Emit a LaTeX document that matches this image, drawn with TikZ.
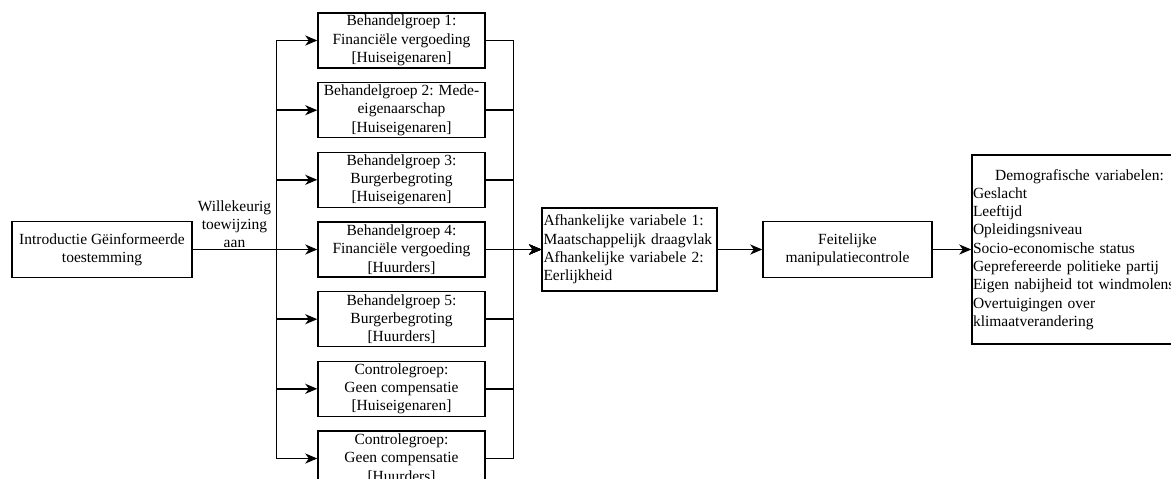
\documentclass[tikz,border=0pt]{standalone}
\usepackage{fontspec}
\setmainfont{Liberation Serif}
\usetikzlibrary{arrows.meta,positioning,calc}

\begin{document}
\begin{tikzpicture}[x=1pt, y=-1pt,
				      every node/.style={font=\fontsize{15.5}{18.3}\selectfont, inner sep=2pt},
				      stageBox/.style={
						      draw, shape=rectangle, line width=1.4pt,
						      minimum width=167pt, minimum height=55pt,
						      inner ysep=0pt, align=center
					      },
				      groupBox/.style={stageBox, minimum width=167pt, minimum height=55pt},
				      listBox/.style={
						      draw, shape=rectangle, line width=1.4pt,
						      align=left, inner xsep=0.5pt
					      },
				      flow/.style={draw, line width=1.5pt, -{Stealth[length=12pt,width=10pt,inset=3.5pt]}}
			      ]
			      \clip (0,0) rectangle (1171,479);

			      % Start
			      \node[stageBox, minimum width=180pt, minimum height=56pt] (intro) at (102,249.5) {Introductie Gëinformeerde\\toestemming};
			      \node[anchor=south, align=center, inner sep=1pt] (assign) at (234.5,249) {Willekeurig\\toewijzing\\aan};

			      % Groups
			      \node[groupBox] (g1) at (401.5,40.5) {Behandelgroep 1:\\Financiële vergoeding\\{[Huiseigenaren]}};
			      \node[groupBox] (g2) at (401.5,110.2) {Behandelgroep 2: Mede-\\eigenaarschap\\{[Huiseigenaren]}};
			      \node[groupBox] (g3) at (401.5,179.8) {Behandelgroep 3:\\Burgerbegroting\\{[Huiseigenaren]}};
			      \node[groupBox] (g4) at (401.5,249.5) {Behandelgroep 4:\\Financiële vergoeding\\{[Huurders]}};
			      \node[groupBox] (g5) at (401.5,319.2) {Behandelgroep 5:\\Burgerbegroting\\{[Huurders]}};
			      \node[groupBox] (g6) at (401.5,388.8) {Controlegroep:\\Geen compensatie\\{[Huiseigenaren]}};
			      \node[groupBox] (g7) at (401.5,458.5) {Controlegroep:\\Geen compensatie\\{[Huurders]}};

			      % Measures
			      \node[listBox, minimum width=175pt, minimum height=83pt, text width=172pt] (dep) at (629.5,249.5)
			      {Afhankelijke variabele 1:\\Maatschappelijk draagvlak\\Afhankelijke variabele 2:\\Eerlijkheid};
			      \node[stageBox, minimum width=169pt, minimum height=56pt] (check) at (847.5,249.5) {Feitelijke\\manipulatiecontrole};
			      \node[listBox, minimum width=215pt, minimum height=189pt, text width=213pt] (demo) at (1079.5,249.5)
			      {\makebox[\linewidth][c]{Demografische variabelen:}\\Geslacht\\Leeftijd\\Opleidingsniveau\\Socio-economische status\\Geprefereerde politieke partij\\Eigen nabijheid tot windmolens\\Overtuigingen over\\klimaatverandering};

			      % Split to groups
			      \draw[flow] (intro.east) -- ++(84,0) |- (g1.west);
			      \draw[flow] (intro.east) -- ++(84,0) |- (g2.west);
			      \draw[flow] (intro.east) -- ++(84,0) |- (g3.west);
			      \draw[flow] (intro.east) -- (g4.west);
			      \draw[flow] (intro.east) -- ++(84,0) |- (g5.west);
			      \draw[flow] (intro.east) -- ++(84,0) |- (g6.west);
			      \draw[flow] (intro.east) -- ++(84,0) |- (g7.west);

			      % Merge to measures
			      \draw[flow] (g1.east) -- ++(28,0) |- (dep.west);
			      \draw[flow] (g2.east) -- ++(28,0) |- (dep.west);
			      \draw[flow] (g3.east) -- ++(28,0) |- (dep.west);
			      \draw[flow] (g4.east) -- (dep.west);
			      \draw[flow] (g5.east) -- ++(28,0) |- (dep.west);
			      \draw[flow] (g6.east) -- ++(28,0) |- (dep.west);
			      \draw[flow] (g7.east) -- ++(28,0) |- (dep.west);

			      \draw[flow] (dep) -- (check);
			      \draw[flow] (check) -- (demo);
		      \end{tikzpicture}
\end{document}
